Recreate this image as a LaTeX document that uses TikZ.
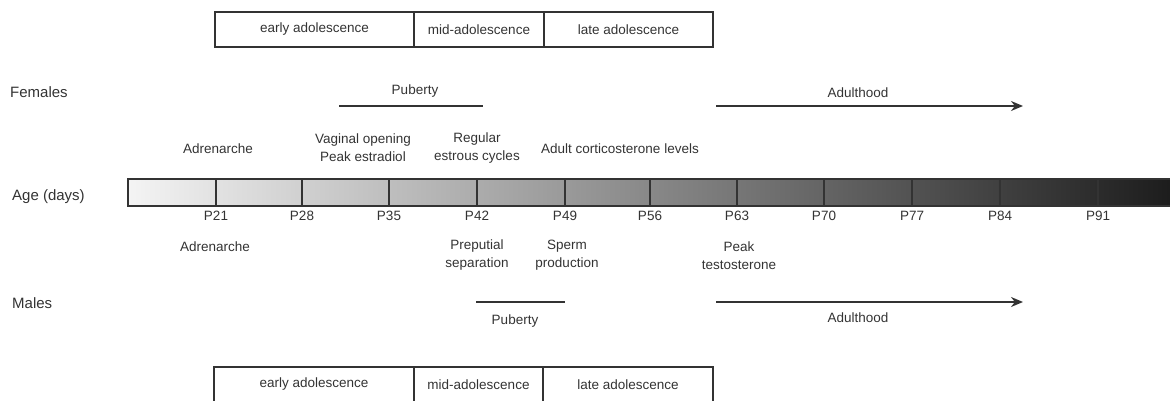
\documentclass[tikz,border=0pt]{standalone}
\usepackage{fontspec}
\setmainfont{Liberation Sans}
\usetikzlibrary{arrows.meta}
\definecolor{ink}{HTML}{333333}
\definecolor{barlight}{HTML}{F4F4F4}
\definecolor{bardark}{HTML}{1C1C1C}
\begin{document}
\begin{tikzpicture}[x=1pt,y=-1pt,
  txt/.style={font=\fontsize{13.5}{18}\selectfont, text=ink, align=center, inner sep=0pt},
  side/.style={font=\fontsize{15}{18}\selectfont, text=ink, anchor=west, inner sep=0pt},
  stagebox/.style={draw=ink, line width=1.2pt, minimum height=35pt, inner sep=0pt, font=\fontsize{13.5}{18}\selectfont, text=ink},
  phase/.style={draw=ink, line width=1.6pt},
  arr/.style={phase, -{Stealth[length=12pt,width=10pt]}},
  barline/.style={draw=ink, line width=1.2pt}]
\useasboundingbox (0,0) rectangle (1170,401);

% top stage boxes
\node[stagebox, minimum width=199pt] (te) at (314.5,29.5) {early adolescence};
\node[stagebox, minimum width=130pt] (tm) at (479,29.5) {mid-adolescence};
\node[stagebox, minimum width=169pt] (tl) at (628.5,29.5) {late adolescence};

% bottom stage boxes
\node[stagebox, minimum width=200pt] (be) at (314,384.5) {early adolescence};
\node[stagebox, minimum width=129pt] (bm) at (478.5,384.5) {mid-adolescence};
\node[stagebox, minimum width=170pt] (bl) at (628,384.5) {late adolescence};

% side labels
\node[side] (fem) at (10,92) {Females};
\node[side] (age) at (12,197) {Age (days)};
\node[side] (mal) at (12,303) {Males};

% female phases
\node[txt] (fpub) at (415,91) {Puberty};
\coordinate (fp1) at (339,106);
\coordinate (fp2) at (483,106);
\draw[phase] (fp1) -- (fp2);
\node[txt] (fadu) at (858,93) {Adulthood};
\coordinate (fa1) at (716,106);
\coordinate (fa2) at (1023,106);
\draw[arr] (fa1) -- (fa2);

% female events
\node[txt] (fadr) at (218,149) {Adrenarche};
\node[txt] (fvag) at (363,148) {Vaginal opening\\Peak estradiol};
\node[txt] (freg) at (477,148) {Regular\\estrous cycles};
\node[txt] (fcor) at (620,149) {Adult corticosterone levels};

% age bar
\coordinate (b0) at (128,179);
\coordinate (b1) at (1174,179);
\coordinate (b2) at (1174,206);
\coordinate (b3) at (128,206);
\shade[left color=barlight, right color=bardark] (b0) rectangle (b2);
\draw[barline] (b1) -- (b0) -- (b3) -- (b2);
\foreach \x/\l in {216/21,302/28,389/35,477/42,565/49,650/56,737/63,824/70,912/77,1000/84,1098/91}{
  \draw[barline] (\x,179) -- (\x,206);
  \node[txt] (p\l) at (\x,216) {P\l};
}

% male events
\node[txt] (madr) at (215,247) {Adrenarche};
\node[txt] (mpre) at (477,255.5) {Preputial\\separation};
\node[txt] (mspe) at (567,255.5) {Sperm\\production};
\node[txt] (mtes) at (739,255.5) {Peak\\testosterone};

% male phases
\coordinate (mp1) at (476,302);
\coordinate (mp2) at (565,302);
\draw[phase] (mp1) -- (mp2);
\node[txt] (mpub) at (515,321) {Puberty};
\coordinate (ma1) at (716,302);
\coordinate (ma2) at (1023,302);
\draw[arr] (ma1) -- (ma2);
\node[txt] (madu) at (858,318) {Adulthood};
\end{tikzpicture}
\end{document}
